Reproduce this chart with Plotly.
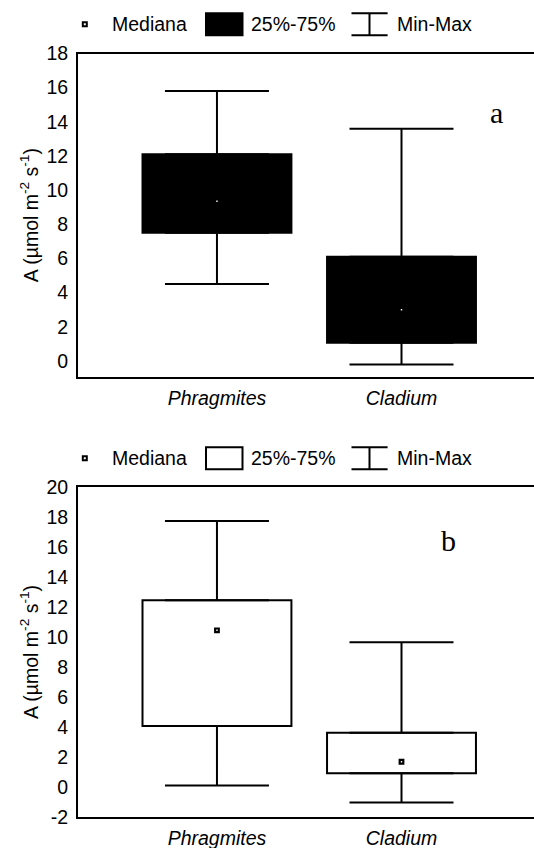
import plotly.graph_objects as go

W, H = 534, 848

# ---- data ----
species = ["Phragmites", "Cladium"]
species_labels = ["<i>Phragmites</i>", "<i>Cladium</i>"]

# panel a
a_min = [4.5, -0.2]
a_q1 = [7.5, 1.07]
a_median = [9.35, 3.0]
a_q3 = [12.1, 6.1]
a_max = [15.8, 13.6]
a_ticks = [0, 2, 4, 6, 8, 10, 12, 14, 16, 18]

# panel b
b_min = [0.08, -1.05]
b_q1 = [4.05, 0.9]
b_median = [10.45, 1.67]
b_q3 = [12.45, 3.6]
b_max = [17.75, 9.65]
b_ticks = [-2, 0, 2, 4, 6, 8, 10, 12, 14, 16, 18, 20]

FONT = "Liberation Sans, Arial, sans-serif"
SERIF = "Liberation Serif, Times New Roman, serif"
FS = 19.5


def px_x(px):
    return px / W


def px_y(py):
    return 1 - py / H


fig = go.Figure()


def add_panel(xa, ya, lo, q1, med, q3, hi, fill):
    # interquartile boxes
    fig.add_trace(go.Bar(
        x=species, base=q1, y=[b - a for a, b in zip(q1, q3)],
        width=0.807, xaxis=xa, yaxis=ya,
        marker=dict(color=fill, line=dict(color="black", width=2)),
        hoverinfo="skip",
    ))
    # upper whiskers (q3 -> max)
    fig.add_trace(go.Scatter(
        x=species, y=q3, mode="markers", xaxis=xa, yaxis=ya,
        marker=dict(size=1, color="rgba(0,0,0,0)"),
        error_y=dict(type="data", symmetric=False,
                     array=[h - q for q, h in zip(q3, hi)],
                     arrayminus=[0] * len(q3),
                     width=52, thickness=2, color="black"),
        hoverinfo="skip",
    ))
    # lower whiskers (min -> q1)
    fig.add_trace(go.Scatter(
        x=species, y=q1, mode="markers", xaxis=xa, yaxis=ya,
        marker=dict(size=1, color="rgba(0,0,0,0)"),
        error_y=dict(type="data", symmetric=False,
                     array=[0] * len(q1),
                     arrayminus=[q - l for l, q in zip(lo, q1)],
                     width=52, thickness=2, color="black"),
        hoverinfo="skip",
    ))
    # medians
    fig.add_trace(go.Scatter(
        x=species, y=med, mode="markers", xaxis=xa, yaxis=ya,
        marker=dict(symbol="square", size=3.6, color="white",
                    line=dict(color="black", width=2.2)),
        hoverinfo="skip",
    ))


add_panel("x", "y", a_min, a_q1, a_median, a_q3, a_max, "black")
add_panel("x2", "y2", b_min, b_q1, b_median, b_q3, b_max, "white")

ytitle = "A (µmol m<sup>-2</sup> s<sup>-1</sup>)"
x_range = [-0.753, 1.718]

common_x = dict(
    type="category", range=x_range, tickmode="array",
    tickvals=species, ticktext=species_labels,
    showline=True, mirror=True, linecolor="black", linewidth=2,
    ticks="", showgrid=False, zeroline=False, automargin=False,
    ticklabelstandoff=3, tickfont=dict(family=FONT, size=FS, color="black"),
    domain=[px_x(78), 1.0],
)
common_y = dict(
    showline=True, mirror=False, linecolor="black", linewidth=2,
    ticks="", showgrid=False, zeroline=False, automargin=False,
    ticklabelstandoff=4, tickfont=dict(family=FONT, size=FS, color="black"),
    title=dict(text=ytitle, standoff=3, font=dict(family=FONT, size=FS, color="black")),
    tickmode="array",
)

fig.update_layout(
    width=W, height=H,
    margin=dict(l=0, r=0, t=0, b=0),
    paper_bgcolor="white", plot_bgcolor="white",
    showlegend=False, barmode="overlay",
    font=dict(family=FONT, size=FS, color="black"),
    xaxis=dict(anchor="y", **common_x),
    yaxis=dict(anchor="x", domain=[px_y(376.7), px_y(53.5)],
               range=[-0.92, 18], tickvals=a_ticks,
               ticktext=[str(v) for v in a_ticks], **common_y),
    xaxis2=dict(anchor="y2", **common_x),
    yaxis2=dict(anchor="x2", domain=[px_y(816.7), px_y(487.3)],
                range=[-2, 20], tickvals=b_ticks,
                ticktext=[str(v) for v in b_ticks], **common_y),
)

shapes = []
annotations = []


def add_key(yc, box_fill):
    # median glyph
    shapes.append(dict(type="rect", xref="paper", yref="paper",
                       x0=px_x(82.8), x1=px_x(86.8), y0=px_y(yc + 2), y1=px_y(yc - 2),
                       fillcolor="white", line=dict(color="black", width=2)))
    annotations.append(dict(text="Mediana", x=px_x(110), y=px_y(yc), xref="paper", yref="paper",
                            xanchor="left", yanchor="middle", showarrow=False,
                            font=dict(family=FONT, size=FS, color="black")))
    # interquartile glyph
    shapes.append(dict(type="rect", xref="paper", yref="paper",
                       x0=px_x(206), x1=px_x(242.5), y0=px_y(yc + 11), y1=px_y(yc - 11),
                       fillcolor=box_fill, line=dict(color="black", width=2)))
    annotations.append(dict(text="25%-75%", x=px_x(249), y=px_y(yc), xref="paper", yref="paper",
                            xanchor="left", yanchor="middle", showarrow=False,
                            font=dict(family=FONT, size=FS, color="black")))
    # min-max glyph
    for yy in (yc - 11, yc + 11):
        shapes.append(dict(type="line", xref="paper", yref="paper",
                           x0=px_x(351.5), x1=px_x(387.6), y0=px_y(yy), y1=px_y(yy),
                           line=dict(color="black", width=2)))
    shapes.append(dict(type="line", xref="paper", yref="paper",
                       x0=px_x(369.5), x1=px_x(369.5), y0=px_y(yc - 11), y1=px_y(yc + 11),
                       line=dict(color="black", width=2)))
    annotations.append(dict(text="Min-Max", x=px_x(395), y=px_y(yc), xref="paper", yref="paper",
                            xanchor="left", yanchor="middle", showarrow=False,
                            font=dict(family=FONT, size=FS, color="black")))


add_key(24.2, "black")
add_key(458.3, "white")

annotations.append(dict(text="a", x=px_x(496), y=px_y(112.7), xref="paper", yref="paper",
                        xanchor="center", yanchor="middle", showarrow=False,
                        font=dict(family=SERIF, size=30, color="black")))
annotations.append(dict(text="b", x=px_x(448), y=px_y(540), xref="paper", yref="paper",
                        xanchor="center", yanchor="middle", showarrow=False,
                        font=dict(family=SERIF, size=30, color="black")))

fig.update_layout(shapes=shapes, annotations=annotations)

fig.write_html("out.html")
